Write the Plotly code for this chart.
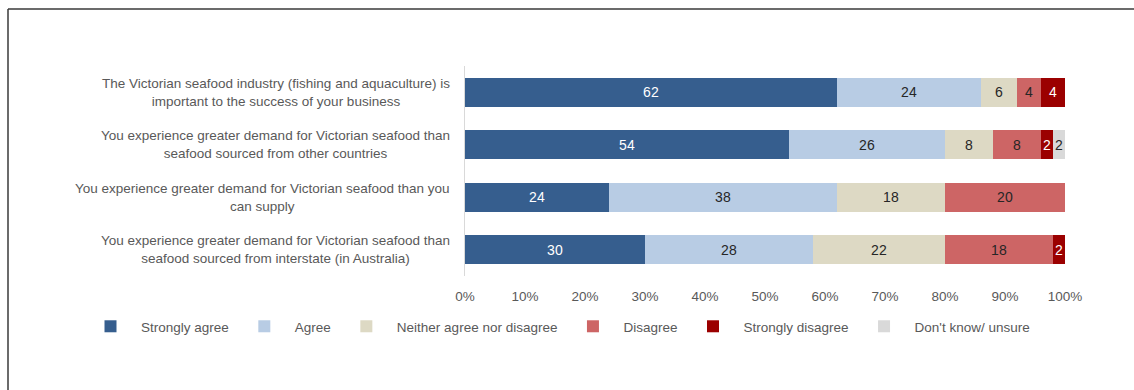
import plotly.graph_objects as go

# Survey statements (top to bottom)
statements = [
    "The Victorian seafood industry (fishing and aquaculture) is<br>important to the success of your business",
    "You experience greater demand for Victorian seafood than<br>seafood sourced from other countries",
    "You experience greater demand for Victorian seafood than you<br>can supply",
    "You experience greater demand for Victorian seafood than<br>seafood sourced from interstate (in Australia)",
]
categories = ["S1", "S2", "S3", "S4"]

# Response shares (%) per statement
strongly_agree = [62, 54, 24, 30]
agree = [24, 26, 38, 28]
neither = [6, 8, 18, 22]
disagree = [4, 8, 20, 18]
strongly_disagree = [4, 2, 0, 2]
dont_know = [0, 2, 0, 0]

tick_vals = [0, 10, 20, 30, 40, 50, 60, 70, 80, 90, 100]
tick_text = ["0%", "10%", "20%", "30%", "40%", "50%", "60%", "70%", "80%", "90%", "100%"]

series = [
    ("Strongly agree", strongly_agree, "#365E8E", "#FFFFFF"),
    ("Agree", agree, "#B8CCE4", "#262626"),
    ("Neither agree nor disagree", neither, "#DDD9C4", "#262626"),
    ("Disagree", disagree, "#CD6565", "#262626"),
    ("Strongly disagree", strongly_disagree, "#9B0000", "#FFFFFF"),
    ("Don't know/ unsure", dont_know, "#D9D9D9", "#262626"),
]

FONT = "Liberation Sans, Arial, sans-serif"
TEXT_GREY = "#595959"

fig = go.Figure()
for name, vals, color, tcolor in series:
    fig.add_trace(go.Bar(
        y=categories,
        x=vals,
        name=name,
        orientation="h",
        marker=dict(color=color, line=dict(width=0)),
        text=[str(v) if v > 0 else "" for v in vals],
        textposition="inside",
        insidetextanchor="middle",
        textangle=0,
        constraintext="none",
        textfont=dict(family=FONT, size=14, color=tcolor),
        hoverinfo="skip",
    ))

# Margin geometry (px)
L, R, T, B = 465, 69, 66, 114
W, H = 1134, 390
pw, ph = W - L - R, H - T - B

def px_x(x):
    return (x - L) / pw

def px_y(y):
    return (H - B - y) / ph

# Centered, multi-line category labels to the left of the bars
annotations = []
for cat, label in zip(categories, statements):
    annotations.append(dict(
        x=px_x(452), xref="paper", y=cat, yref="y",
        text=label, showarrow=False, xanchor="right", yanchor="middle",
        align="center", font=dict(family=FONT, size=13.5, color=TEXT_GREY),
    ))

# Outer frame (top and left edges)
shapes = [
    dict(type="line", xref="paper", yref="paper",
         x0=px_x(8), x1=px_x(1140), y0=px_y(9), y1=px_y(9),
         line=dict(color="#3A3A3A", width=1.5)),
    dict(type="line", xref="paper", yref="paper",
         x0=px_x(8), x1=px_x(8), y0=px_y(9), y1=px_y(400),
         line=dict(color="#3A3A3A", width=1.5)),
]

fig.update_layout(
    width=W, height=H,
    barmode="stack",
    bargap=0.44,
    margin=dict(l=L, r=R, t=T, b=B),
    paper_bgcolor="white",
    plot_bgcolor="white",
    font=dict(family=FONT, size=13, color=TEXT_GREY),
    xaxis=dict(
        range=[0, 100], tickvals=tick_vals, ticktext=tick_text,
        showgrid=False, zeroline=False, showline=False,
        ticklabelstandoff=10,
        tickfont=dict(family=FONT, size=13.5, color=TEXT_GREY),
        fixedrange=True,
    ),
    yaxis=dict(
        categoryorder="array", categoryarray=categories[::-1],
        showticklabels=False, showgrid=False, zeroline=False,
        showline=True, linecolor="#D9D9D9", linewidth=1,
        fixedrange=True,
    ),
    legend=dict(
        orientation="h", x=px_x(80), xanchor="left",
        y=px_y(311), yanchor="top",
        font=dict(family=FONT, size=13.5, color=TEXT_GREY),
        traceorder="normal", itemwidth=51,
        bgcolor="rgba(0,0,0,0)",
    ),
    annotations=annotations,
    shapes=shapes,
    showlegend=True,
)

fig.write_html("out.html")
